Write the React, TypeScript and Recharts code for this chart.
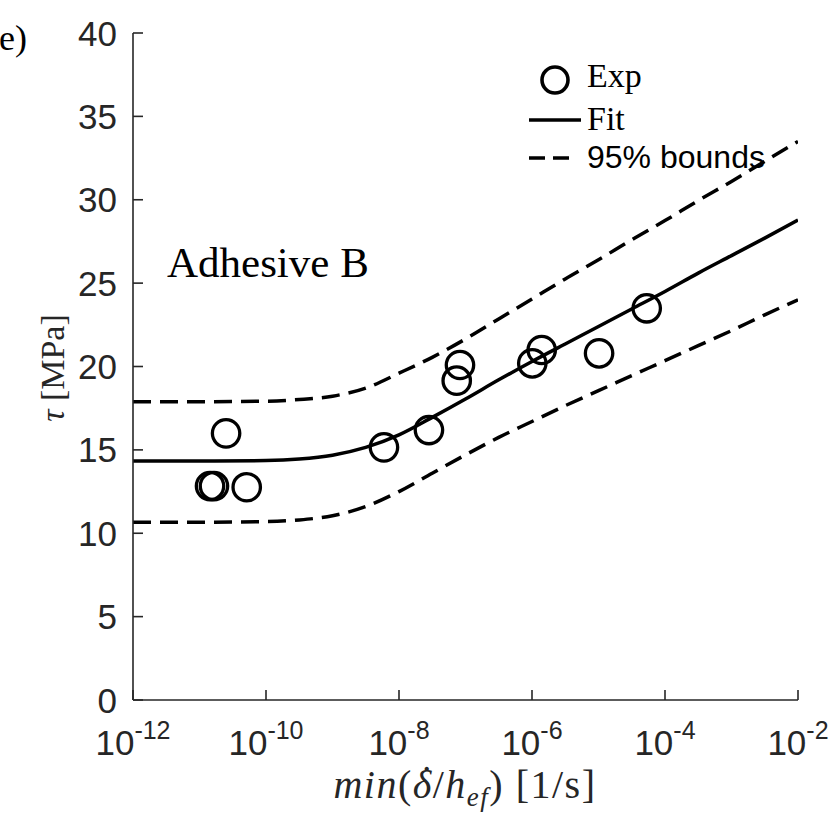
import React from "react";
import { ComposedChart, Line, Scatter, XAxis, YAxis, Legend } from "recharts";

// Experimental points (strain rate, shear strength in MPa)
const expRate = [1.44e-11, 1.65e-11, 2.51e-11, 5.13e-11, 5.94e-9, 2.82e-8, 7.38e-8, 8.26e-8, 1.01e-6, 1.4e-6, 1.02e-5, 5.31e-5];
const expTau = [12.83, 12.83, 15.99, 12.76, 15.15, 16.19, 19.15, 20.09, 20.19, 20.99, 20.79, 23.49];

// Fit curve and 95% bounds, read at these rates
const curveRate = [
  1e-12, 1e-11, 1e-10, 3.16e-10, 1e-9, 3.16e-9, 1e-8, 3.16e-8, 1e-7, 3.16e-7, 1e-6,
  3.16e-6, 1e-5, 3.16e-5, 1e-4, 3.16e-4, 1e-3, 3.16e-3, 1e-2,
];
const fitTau = [14.33, 14.33, 14.36, 14.45, 14.68, 15.15, 15.9, 16.95, 18.05, 19.2, 20.3, 21.35, 22.4, 23.45, 24.5, 25.6, 26.65, 27.7, 28.78];
const upperTau = [17.89, 17.89, 17.92, 18.02, 18.22, 18.7, 19.6, 20.55, 21.65, 22.85, 24.05, 25.25, 26.4, 27.6, 28.75, 29.95, 31.1, 32.3, 33.5];
const lowerTau = [10.66, 10.66, 10.7, 10.8, 11.05, 11.6, 12.5, 13.6, 14.7, 15.75, 16.7, 17.65, 18.55, 19.45, 20.35, 21.25, 22.15, 23.1, 24.0];

const xTicks = [1e-12, 1e-10, 1e-8, 1e-6, 1e-4, 1e-2];
const xTickExp = ["-12", "-10", "-8", "-6", "-4", "-2"];
const yTicks = [0, 5, 10, 15, 20, 25, 30, 35, 40];

const expData = expRate.map((x, i) => ({ x, tau: expTau[i] }));
const curveData = curveRate.map((x, i) => ({ x, fit: fitTau[i], upper: upperTau[i], lower: lowerTau[i] }));

const AXIS = "#262626";
const SANS = "Liberation Sans, Arial, sans-serif";
const SERIF = "Liberation Serif, Times New Roman, serif";

function XTick({ x, y, payload }: any) {
  const idx = xTicks.indexOf(payload.value);
  return (
    <text x={x} y={y + 65} textAnchor="middle" fontFamily={SANS} fill={AXIS}>
      <tspan fontSize={35}>10</tspan>
      <tspan fontSize={25} dy={-16}>{xTickExp[idx]}</tspan>
    </text>
  );
}

function YTick({ x, y, payload }: any) {
  return (
    <text x={x - 26} y={y + 12.5} textAnchor="end" fontFamily={SANS} fontSize={35} fill={AXIS}>
      {payload.value}
    </text>
  );
}

const NoTick = () => <g />;

function XLabel() {
  return (
    <text x={465} y={798} textAnchor="middle" fontFamily={SERIF} fontSize={40} letterSpacing={1.5} fill={AXIS}>
      <tspan fontStyle="italic">min</tspan>(<tspan fontStyle="italic">δ</tspan>
      <tspan dx={-13} dy={-5}>˙</tspan>
      <tspan dx={-2} dy={5}>/</tspan>
      <tspan fontStyle="italic">h</tspan>
      <tspan fontStyle="italic" fontSize={27} dy={8}>ef</tspan>
      <tspan dy={-8}>) [1/s]</tspan>
    </text>
  );
}

function YLabel() {
  return (
    <text x={64} y={368} transform="rotate(-90 64 368)" textAnchor="middle" fontFamily={SERIF} fontSize={34} fill={AXIS}>
      <tspan fontStyle="italic">τ</tspan> [MPa]
    </text>
  );
}

function ExpCircle({ cx, cy }: any) {
  return <circle cx={cx} cy={cy} r={13.7} fill="none" stroke="#000" strokeWidth={3.3} />;
}

function LegendBox() {
  return (
    <svg width={300} height={140}>
      <circle cx={40} cy={30} r={13} fill="none" stroke="#000" strokeWidth={3.6} />
      <text x={72} y={37} fontFamily={SERIF} fontSize={34}>Exp</text>
      <line x1={14} x2={66} y1={70} y2={70} stroke="#000" strokeWidth={3.5} />
      <text x={72} y={80} fontFamily={SERIF} fontSize={34}>Fit</text>
      <line x1={14} x2={54} y1={108} y2={108} stroke="#000" strokeWidth={3.5} strokeDasharray="16 8" />
      <text x={72} y={118} fontFamily={SANS} fontSize={32}>95% bounds</text>
    </svg>
  );
}

export default function App() {
  return (
    <div style={{ position: "absolute", left: 0, top: 0, width: 830, height: 814, background: "#fff" }}>
      <ComposedChart width={830} height={814} margin={{ top: 33, right: 32, bottom: 54, left: 73 }}>
        <XAxis
          dataKey="x"
          type="number"
          scale="log"
          domain={[1e-12, 1e-2]}
          allowDataOverflow
          ticks={xTicks}
          interval={0}
          height={60}
          tickSize={-10}
          tickMargin={0}
          axisLine={{ stroke: AXIS, strokeWidth: 1.6 }}
          tickLine={{ stroke: AXIS, strokeWidth: 1.6 }}
          tick={<XTick />}
          label={<XLabel />}
        />
        <XAxis
          xAxisId="top"
          orientation="top"
          dataKey="x"
          type="number"
          scale="log"
          domain={[1e-12, 1e-2]}
          allowDataOverflow
          ticks={xTicks}
          interval={0}
          height={0}
          tickSize={-10}
          axisLine={{ stroke: AXIS, strokeWidth: 1.6 }}
          tickLine={{ stroke: AXIS, strokeWidth: 1.6 }}
          tick={<NoTick />}
        />
        <YAxis
          type="number"
          domain={[0, 40]}
          ticks={yTicks}
          interval={0}
          width={60}
          tickSize={-10}
          tickMargin={0}
          axisLine={{ stroke: AXIS, strokeWidth: 1.6 }}
          tickLine={{ stroke: AXIS, strokeWidth: 1.6 }}
          tick={<YTick />}
          label={<YLabel />}
        />
        <YAxis
          yAxisId="right"
          orientation="right"
          type="number"
          domain={[0, 40]}
          ticks={yTicks}
          interval={0}
          width={0}
          tickSize={-10}
          axisLine={{ stroke: AXIS, strokeWidth: 1.6 }}
          tickLine={{ stroke: AXIS, strokeWidth: 1.6 }}
          tick={<NoTick />}
        />
        <Line data={curveData} dataKey="upper" type="monotone" stroke="#000" strokeWidth={3.5} strokeDasharray="18 9" dot={false} isAnimationActive={false} />
        <Line data={curveData} dataKey="lower" type="monotone" stroke="#000" strokeWidth={3.5} strokeDasharray="18 9" dot={false} isAnimationActive={false} />
        <Line data={curveData} dataKey="fit" type="monotone" stroke="#000" strokeWidth={3.5} dot={false} isAnimationActive={false} />
        <Scatter data={expData} dataKey="tau" shape={<ExpCircle />} isAnimationActive={false} />
        <Legend
          layout="vertical"
          align="center"
          verticalAlign="middle"
          content={<LegendBox />}
          wrapperStyle={{ left: 515, top: 50, width: 300, height: 140 }}
        />
      </ComposedChart>
      <svg width={830} height={814} style={{ position: "absolute", left: 0, top: 0, pointerEvents: "none" }}>
        <text x={-1} y={50} fontFamily={SERIF} fontSize={36} fill="#000">e)</text>
        <text x={167} y={277} fontFamily={SERIF} fontSize={43} fill="#000">Adhesive B</text>
      </svg>
    </div>
  );
}
